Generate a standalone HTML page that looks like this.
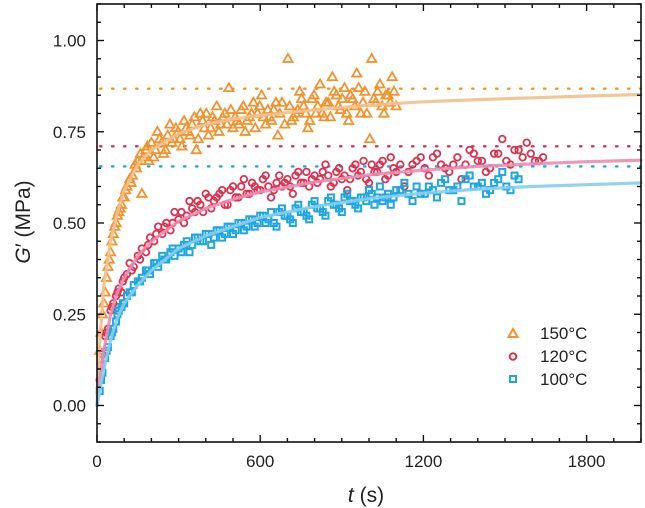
<!DOCTYPE html>
<html><head><meta charset="utf-8"><style>
html,body{margin:0;padding:0;background:#fff;}
svg{display:block;font-family:"Liberation Sans",Arial,sans-serif;}
</style></head><body>
<svg id="chart" width="645" height="508" viewBox="0 0 645 508" xmlns="http://www.w3.org/2000/svg"></svg>
<script>
// ---- data ----
const xTicks = [0, 600, 1200, 1800];
const yTicks = [0.00, 0.25, 0.50, 0.75, 1.00];
const plateau150 = 0.868, plateau120 = 0.71, plateau100 = 0.655;

const t150 = [10,20,30,40,50,60,70,80,90,100,110,120,130,140,150,165,170,180,190,200,215,230,245,260,275,290,305,320,335,350,365,380,395,410,425,440,455,470,485,500,515,530,545,560,575,590,605,620,635,650,665,680,702,715,730,745,760,775,790,805,820,835,850,865,880,895,910,925,940,955,970,985,1003,1010,1025,1040,1055,1070,1085,1100,
  15,25,35,45,55,65,75,85,95,105,125,145,160,185,208,222,238,252,268,282,298,312,328,342,358,372,388,402,418,432,448,462,478,492,508,522,538,552,568,582,598,612,628,642,658,672,690,708,722,738,752,768,782,798,812,828,842,858,872,888,902,918,932,948,962,978,992,1018,1032,1048,1062,1078,1092];
const g150 = [0.15,0.25,0.31,0.38,0.42,0.47,0.5,0.53,0.55,0.57,0.6,0.62,0.63,0.66,0.67,0.58,0.68,0.7,0.67,0.72,0.7,0.73,0.69,0.74,0.72,0.76,0.73,0.78,0.75,0.77,0.7,0.8,0.76,0.74,0.79,0.82,0.77,0.8,0.87,0.76,0.78,0.81,0.75,0.79,0.83,0.8,0.85,0.77,0.79,0.81,0.74,0.83,0.95,0.78,0.8,0.86,0.82,0.76,0.84,0.8,0.88,0.79,0.83,0.9,0.85,0.81,0.87,0.78,0.84,0.91,0.8,0.86,0.73,0.95,0.83,0.88,0.8,0.85,0.9,0.82,
  0.2,0.28,0.35,0.4,0.45,0.49,0.52,0.54,0.57,0.59,0.61,0.65,0.69,0.71,0.68,0.75,0.72,0.7,0.77,0.73,0.75,0.71,0.76,0.74,0.79,0.73,0.78,0.8,0.76,0.78,0.75,0.79,0.77,0.81,0.79,0.77,0.82,0.78,0.8,0.76,0.82,0.79,0.81,0.78,0.83,0.8,0.77,0.82,0.79,0.81,0.84,0.8,0.78,0.85,0.82,0.8,0.83,0.79,0.86,0.82,0.84,0.8,0.85,0.82,0.87,0.83,0.8,0.84,0.86,0.82,0.85,0.83,0.86];

const t120 = [10,20,30,40,50,60,70,80,90,100,110,120,135,150,165,180,195,210,225,240,255,270,285,300,320,340,360,380,400,420,440,460,480,500,520,540,560,580,600,620,640,660,680,700,720,740,760,780,800,820,840,860,880,900,920,940,960,980,1000,1020,1040,1060,1080,1100,1130,1160,1190,1220,1250,1280,1310,1340,1370,1400,1430,1460,1490,1520,1550,1580,1610,1640,
  15,35,55,75,95,128,158,188,218,248,278,310,330,350,370,390,410,430,450,470,490,510,530,550,570,590,610,630,650,670,690,710,730,750,770,790,810,830,850,870,890,910,930,950,970,990,1010,1030,1050,1070,1090,1115,1145,1175,1205,1235,1265,1295,1325,1355,1385,1415,1445,1475,1505,1535,1565,1595,1625];
const g120 = [0.07,0.14,0.19,0.21,0.26,0.28,0.3,0.32,0.31,0.35,0.36,0.39,0.38,0.41,0.43,0.42,0.46,0.45,0.49,0.47,0.5,0.48,0.53,0.51,0.5,0.56,0.53,0.55,0.58,0.54,0.57,0.59,0.55,0.6,0.57,0.62,0.58,0.6,0.59,0.63,0.57,0.61,0.6,0.62,0.58,0.64,0.61,0.6,0.63,0.62,0.66,0.6,0.64,0.62,0.59,0.65,0.63,0.67,0.61,0.64,0.66,0.62,0.68,0.64,0.6,0.66,0.68,0.63,0.69,0.65,0.66,0.62,0.7,0.67,0.64,0.69,0.73,0.66,0.7,0.72,0.67,0.68,
  0.11,0.2,0.27,0.31,0.34,0.37,0.4,0.44,0.47,0.49,0.5,0.53,0.52,0.54,0.56,0.53,0.57,0.56,0.58,0.55,0.59,0.57,0.6,0.58,0.61,0.59,0.62,0.6,0.59,0.63,0.61,0.6,0.63,0.61,0.64,0.62,0.61,0.64,0.63,0.61,0.65,0.63,0.62,0.66,0.64,0.62,0.66,0.64,0.67,0.63,0.65,0.66,0.64,0.67,0.65,0.68,0.66,0.64,0.68,0.66,0.69,0.67,0.65,0.69,0.67,0.7,0.68,0.69,0.67];

const t100 = [10,20,30,40,50,60,70,80,90,100,110,120,135,150,165,180,195,210,225,240,255,270,285,300,320,340,360,380,400,420,440,460,480,500,520,540,560,580,600,620,640,660,680,700,720,740,760,780,800,820,840,860,880,900,920,940,960,980,1000,1020,1040,1060,1080,1100,1130,1160,1190,1220,1250,1280,1310,1340,1370,1400,1430,1460,1490,1520,1550,
  15,35,55,75,95,128,158,188,218,248,278,310,330,350,370,390,410,430,450,470,490,510,530,550,570,590,610,630,650,670,690,710,730,750,770,790,810,830,850,870,890,910,930,950,970,990,1010,1030,1050,1070,1090,1115,1145,1175,1205,1235,1265,1295,1325,1355,1385,1415,1445,1475,1505,1535];
const g100 = [0.04,0.09,0.13,0.16,0.19,0.21,0.23,0.26,0.27,0.28,0.3,0.31,0.33,0.34,0.35,0.37,0.36,0.39,0.38,0.41,0.4,0.42,0.41,0.43,0.44,0.42,0.46,0.45,0.47,0.44,0.48,0.46,0.49,0.47,0.5,0.48,0.51,0.49,0.52,0.5,0.53,0.49,0.54,0.52,0.5,0.55,0.53,0.51,0.56,0.54,0.52,0.57,0.55,0.53,0.58,0.56,0.54,0.57,0.59,0.55,0.6,0.57,0.55,0.59,0.61,0.56,0.58,0.6,0.57,0.62,0.59,0.56,0.63,0.6,0.58,0.61,0.64,0.59,0.62,
  0.07,0.15,0.2,0.25,0.28,0.31,0.34,0.37,0.39,0.4,0.43,0.42,0.45,0.44,0.46,0.45,0.47,0.46,0.48,0.47,0.49,0.48,0.5,0.49,0.51,0.5,0.52,0.51,0.5,0.53,0.52,0.51,0.54,0.53,0.52,0.55,0.54,0.53,0.56,0.55,0.54,0.57,0.56,0.55,0.57,0.56,0.58,0.57,0.56,0.58,0.57,0.59,0.58,0.6,0.58,0.59,0.61,0.59,0.6,0.62,0.6,0.61,0.59,0.62,0.6,0.63];

const tFit = [0,10,25,50,75,100,150,200,300,400,500,600,800,1000,1200,1400,1600,1800,2000];
const fit150 = [0,0.17,0.33,0.45,0.53,0.59,0.66,0.7,0.745,0.77,0.785,0.795,0.81,0.823,0.832,0.838,0.843,0.848,0.852];
const fit120 = [0,0.07,0.15,0.25,0.31,0.35,0.41,0.45,0.505,0.54,0.565,0.585,0.612,0.632,0.645,0.655,0.662,0.668,0.672];
const fit100 = [0,0.04,0.1,0.18,0.24,0.28,0.33,0.37,0.43,0.465,0.49,0.515,0.545,0.567,0.582,0.593,0.6,0.605,0.61];

// ---- layout ----
const X0=97, X1=641, Y0=442, Y1=4;
const xMin=0, xMax=2000, yMin=-0.1, yMax=1.1;
const sx = v => X0 + (v-xMin)/(xMax-xMin)*(X1-X0);
const sy = v => Y0 - (v-yMin)/(yMax-yMin)*(Y0-Y1);
const NS="http://www.w3.org/2000/svg";
const svg=document.getElementById('chart');
function mk(tag, attrs, parent){const e=document.createElementNS(NS,tag);for(const k in attrs)e.setAttribute(k,attrs[k]);(parent||svg).appendChild(e);return e;}

const C150="#F0922E", C120="#D9324F", C100="#1DA6DF";

// plateau dotted lines
[[plateau150,C150,'plateau-150'],[plateau120,C120,'plateau-120'],[plateau100,C100,'plateau-100']].forEach(p=>{
  const l=mk('line',{x1:X0+3,x2:X1,y1:sy(p[0]),y2:sy(p[0]),stroke:p[1],'stroke-width':2.4,'stroke-dasharray':'1.5 10.5','stroke-linecap':'round'});
  
  
});

// scatter
function scatter(ts, gs, color, kind, name){
  const g=mk('g',{fill:'none',stroke:color,'stroke-width':1.8});
  
  
  const n=Math.min(ts.length,gs.length);
  for(let i=0;i<n;i++){
    const x=sx(ts[i]), y=sy(gs[i]); let m;
    if(kind==='tri') m=mk('path',{d:`M${x},${y-4.8}L${x+4.6},${y+3.2}L${x-4.6},${y+3.2}Z`,'stroke-linejoin':'miter'},g);
    else if(kind==='circ') m=mk('circle',{cx:x,cy:y,r:3.3},g);
    else m=mk('rect',{x:x-3,y:y-3,width:6,height:6,'stroke-width':2},g);
    
    
  }
}
scatter(t150,g150,C150,'tri','series-150c');
scatter(t120,g120,C120,'circ','series-120c');
scatter(t100,g100,C100,'sq','series-100c');

// fits
function fit(vals,color,name){
  let d='';
  for(let i=0;i<tFit.length;i++) d+=(i?'L':'M')+sx(tFit[i]).toFixed(1)+','+sy(vals[i]).toFixed(1);
  const p=mk('path',{d,fill:'none',stroke:color,'stroke-width':3.2,'stroke-linejoin':'round','stroke-linecap':'round',opacity:0.9});
  
  
}
fit(fit150,'#F3C08C','fit-150c');
fit(fit120,'#EA8DB0','fit-120c');
fit(fit100,'#86CDEE','fit-100c');

// frame
const fr=mk('rect',{x:X0,y:Y1,width:X1-X0,height:Y0-Y1,fill:'none',stroke:'#111','stroke-width':1.6});



// ticks
const tg=mk('g',{stroke:'#111','stroke-width':1.4});


for(let v=0; v<=xMax; v+=100){
  const x=sx(v), L=(v%600===0)?7:4;
  mk('line',{x1:x,x2:x,y1:Y0,y2:Y0-L},tg);
  mk('line',{x1:x,x2:x,y1:Y1,y2:Y1+L},tg);
}
for(let k=-2; k<=22; k++){
  const v=k*0.05; if(v<yMin-1e-9||v>yMax+1e-9) continue;
  const y=sy(v), L=(k%5===0)?7:4;
  mk('line',{x1:X0,x2:X0+L,y1:y,y2:y},tg);
  mk('line',{x1:X1,x2:X1-L,y1:y,y2:y},tg);
}
// tick labels
xTicks.forEach(v=>{
  const t=mk('text',{x:sx(v),y:467,'text-anchor':'middle','font-size':17,fill:'#222'});
  t.textContent=String(v);
  
  
});
yTicks.forEach(v=>{
  const t=mk('text',{x:86,y:sy(v)+6,'text-anchor':'end','font-size':17,fill:'#222'});
  t.textContent=v.toFixed(2);
  
  
});
</script>
<svg width="645" height="508" style="position:absolute;left:0;top:0" xmlns="http://www.w3.org/2000/svg">
  <text x="366" y="502" text-anchor="middle" font-size="21" fill="#222" font-family="Liberation Sans, sans-serif"><tspan font-style="italic">t</tspan> (s)</text>
  <text transform="translate(30,222) rotate(-90)" text-anchor="middle" font-size="21" fill="#222" font-family="Liberation Sans, sans-serif"><tspan font-style="italic">G</tspan>′ (MPa)</text>
  <g font-family="Liberation Sans, sans-serif" font-size="17" fill="#222">
    <g>
      <path d="M513,329 L517.5,337 L508.5,337 Z" fill="none" stroke="#F0922E" stroke-width="2"/>
      <text x="540" y="339">150°C</text>
    </g>
    <g>
      <circle cx="513" cy="356.5" r="3.3" fill="none" stroke="#D9324F" stroke-width="2"/>
      <text x="540" y="362">120°C</text>
    </g>
    <g>
      <rect x="510" y="376" width="6" height="6" fill="none" stroke="#1DA6DF" stroke-width="2"/>
      <text x="540" y="385">100°C</text>
    </g>
  </g>
</svg>
</body></html>
